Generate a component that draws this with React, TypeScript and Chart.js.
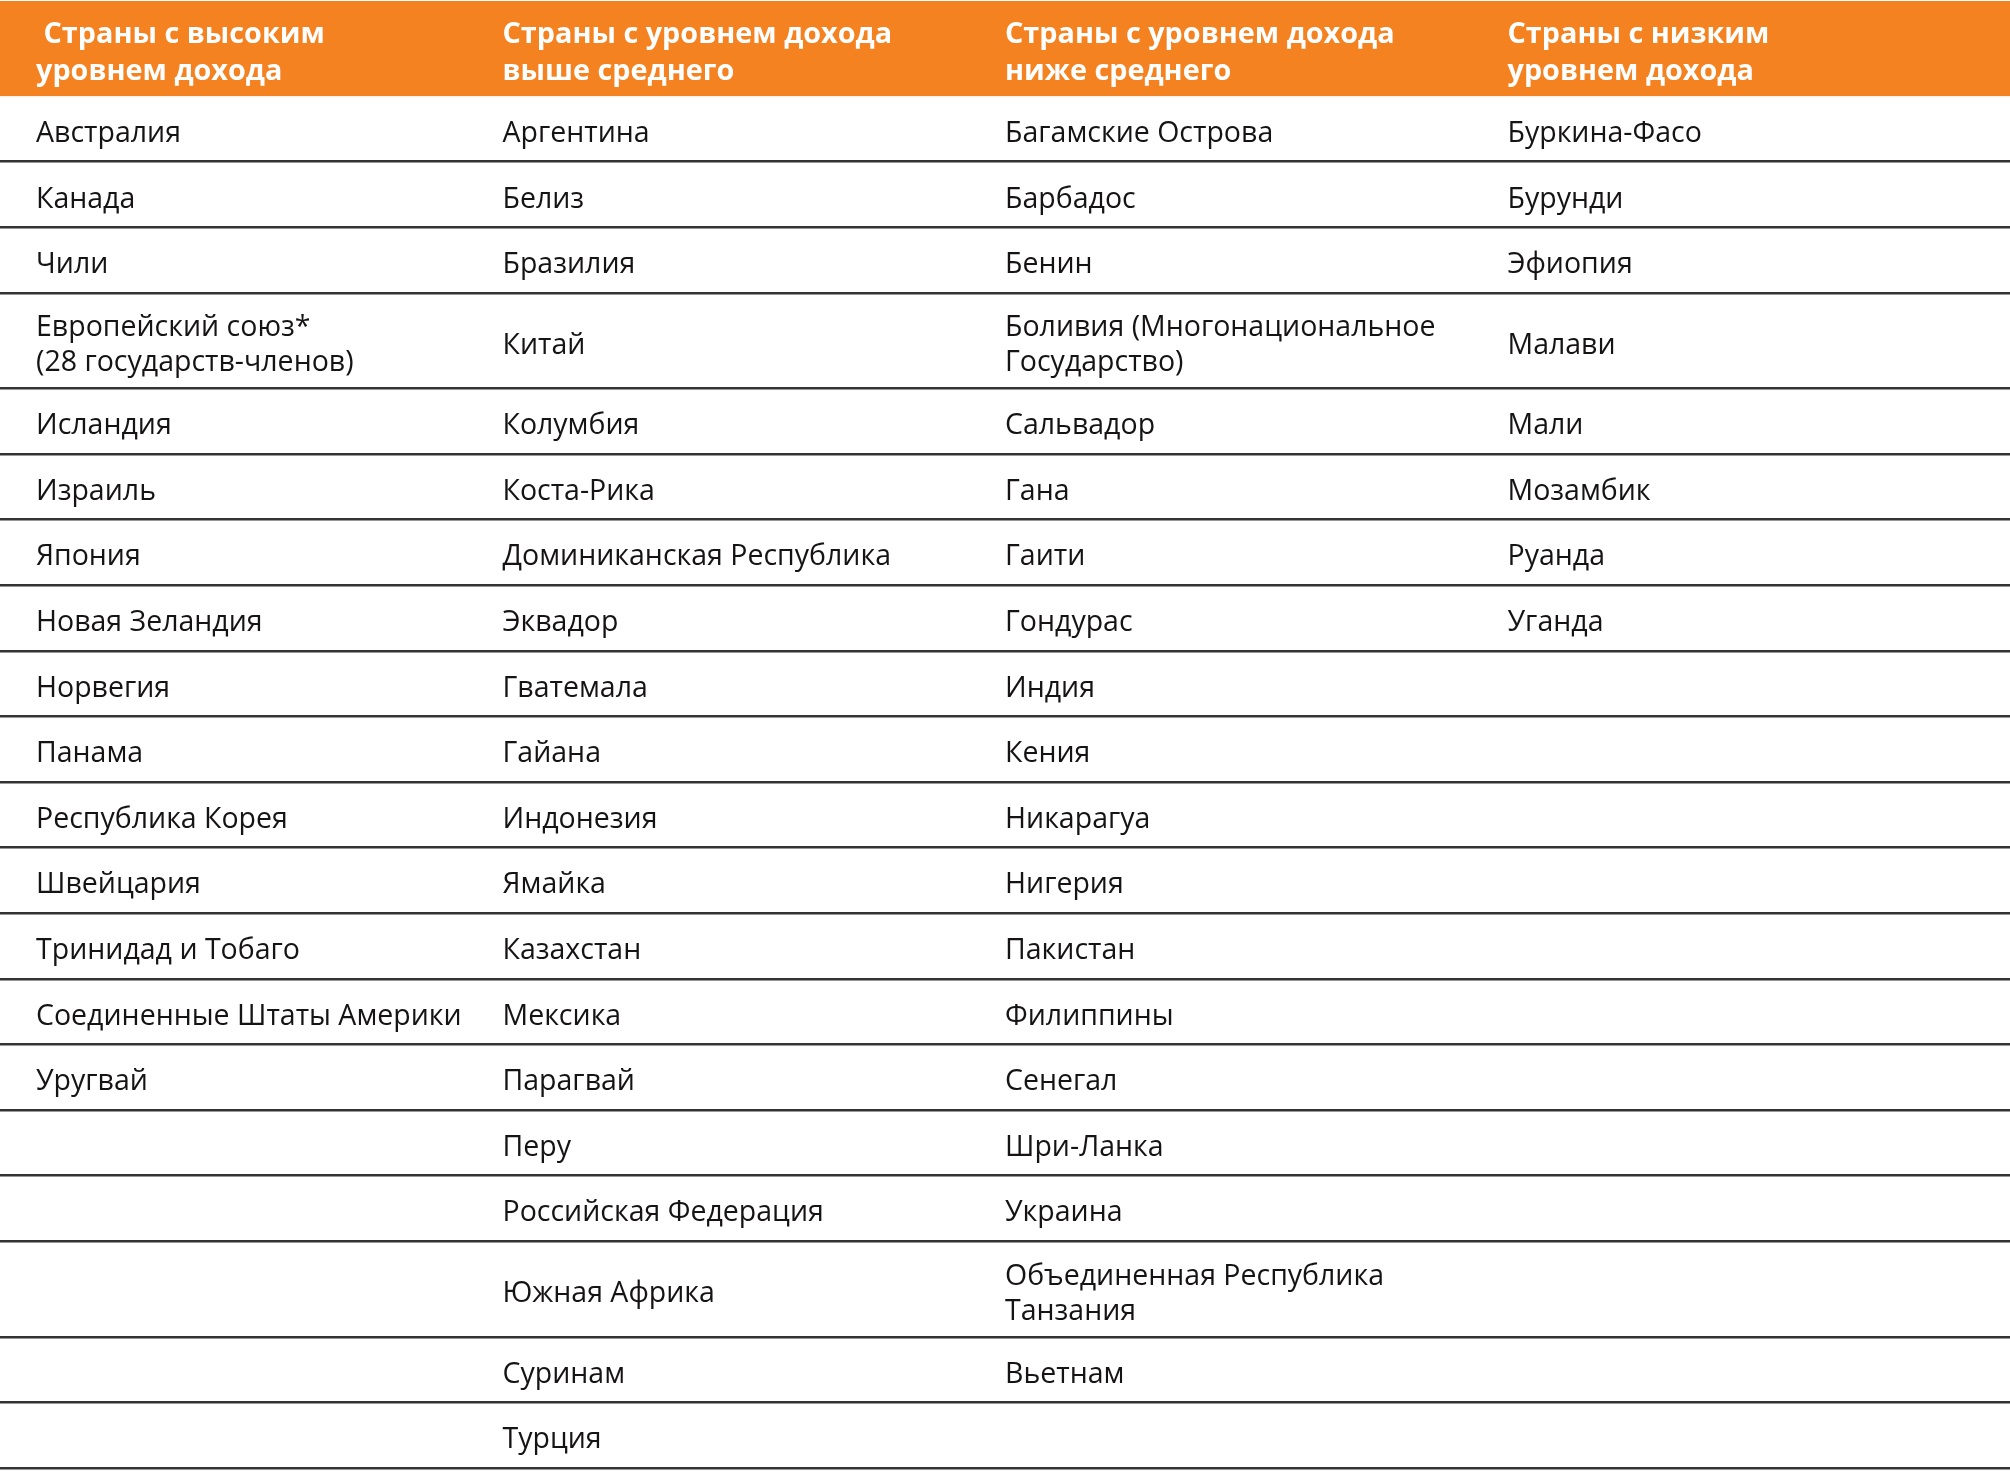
import React, { useEffect, useRef } from "react";
import { Chart, registerables } from "chart.js";

Chart.register(...registerables);

// ---- data ----
const headerTitles: string[] = [
  " Страны с высоким\nуровнем дохода",
  "Страны с уровнем дохода\nвыше среднего",
  "Страны с уровнем дохода\nниже среднего",
  "Страны с низким\nуровнем дохода",
];

const highIncome: string[] = [
  "Австралия",
  "Канада",
  "Чили",
  "Европейский союз*\n(28 государств-членов)",
  "Исландия",
  "Израиль",
  "Япония",
  "Новая Зеландия",
  "Норвегия",
  "Панама",
  "Республика Корея",
  "Швейцария",
  "Тринидад и Тобаго",
  "Соединенные Штаты Америки",
  "Уругвай",
];

const upperMiddleIncome: string[] = [
  "Аргентина",
  "Белиз",
  "Бразилия",
  "Китай",
  "Колумбия",
  "Коста-Рика",
  "Доминиканская Республика",
  "Эквадор",
  "Гватемала",
  "Гайана",
  "Индонезия",
  "Ямайка",
  "Казахстан",
  "Мексика",
  "Парагвай",
  "Перу",
  "Российская Федерация",
  "Южная Африка",
  "Суринам",
  "Турция",
];

const lowerMiddleIncome: string[] = [
  "Багамские Острова",
  "Барбадос",
  "Бенин",
  "Боливия (Многонациональное\nГосударство)",
  "Сальвадор",
  "Гана",
  "Гаити",
  "Гондурас",
  "Индия",
  "Кения",
  "Никарагуа",
  "Нигерия",
  "Пакистан",
  "Филиппины",
  "Сенегал",
  "Шри-Ланка",
  "Украина",
  "Объединенная Республика\nТанзания",
  "Вьетнам",
];

const lowIncome: string[] = [
  "Буркина-Фасо",
  "Бурунди",
  "Эфиопия",
  "Малави",
  "Мали",
  "Мозамбик",
  "Руанда",
  "Уганда",
];

const columns: string[][] = [highIncome, upperMiddleIncome, lowerMiddleIncome, lowIncome];

// ---- style / layout ----
const ORANGE = "#F58220";
const TEXT = "#161314";
const LINE = "#333333";
const BODY_FONT = "28.5px 'Open Sans'";
const HEAD_FONT = "bold 28.8px 'Open Sans'";
const HEADER_UNITS = 1.45;
const TWO_LINE_UNITS = 1.456;
const FIRST_COL_INDENT = 36;
const LINE_GAP = 35;
const HEAD_LINE_GAP = 37;
const BASE_OFFSET = 13;

const rowCount = Math.max(...columns.map((c) => c.length));
const rowLines: number[] = Array.from({ length: rowCount }, (_, r) =>
  Math.max(...columns.map((c) => (c[r] ? c[r].split("\n").length : 1)))
);
const rowHeights: number[] = rowLines.map((n) => (n > 1 ? TWO_LINE_UNITS : 1));
const rowTops: number[] = [];
{
  let acc = HEADER_UNITS;
  for (const h of rowHeights) {
    rowTops.push(acc);
    acc += h;
  }
}
const rowBottoms: number[] = rowTops.map((t, i) => t + rowHeights[i]);
const totalUnits = rowBottoms[rowBottoms.length - 1];

const tablePlugin = {
  id: "tablePlugin",
  beforeDraw(chart: any) {
    const { ctx, chartArea, scales } = chart;
    const y = scales.y;
    const top = y.getPixelForValue(0);
    const bottom = y.getPixelForValue(HEADER_UNITS);
    ctx.save();
    ctx.fillStyle = ORANGE;
    ctx.fillRect(chartArea.left, top, chartArea.right - chartArea.left, bottom - top);
    ctx.restore();
  },
  afterDraw(chart: any) {
    const { ctx, scales } = chart;
    const x = scales.x;
    const y = scales.y;
    ctx.save();
    ctx.textAlign = "left";
    ctx.textBaseline = "alphabetic";
    // header
    ctx.font = HEAD_FONT;
    ctx.fillStyle = "#ffffff";
    headerTitles.forEach((t, c) => {
      const lines = t.split("\n");
      const cx = x.getPixelForValue(c) + (c === 0 ? FIRST_COL_INDENT : 0);
      const cy = y.getPixelForValue(HEADER_UNITS / 2);
      lines.forEach((ln, i) => {
        const by = cy + BASE_OFFSET + (i - (lines.length - 1) / 2) * HEAD_LINE_GAP;
        ctx.fillText(ln, cx, by);
      });
    });
    // body
    ctx.font = BODY_FONT;
    ctx.fillStyle = TEXT;
    columns.forEach((col, c) => {
      col.forEach((cell, r) => {
        const lines = cell.split("\n");
        const cx = x.getPixelForValue(c) + (c === 0 ? FIRST_COL_INDENT : 0);
        const cy = y.getPixelForValue(rowTops[r] + rowHeights[r] / 2);
        lines.forEach((ln, i) => {
          const by = cy + BASE_OFFSET + (i - (lines.length - 1) / 2) * LINE_GAP;
          ctx.fillText(ln, cx, by);
        });
      });
    });
    ctx.restore();
  },
};

export default function App() {
  const ref = useRef<HTMLCanvasElement | null>(null);
  useEffect(() => {
    if (!ref.current) return;
    const chart = new Chart(ref.current, {
      type: "scatter",
      data: { datasets: [{ data: [] }] },
      options: {
        animation: false,
        responsive: false,
        maintainAspectRatio: false,
        layout: { padding: { top: 1, bottom: 4, left: 0, right: 0 } },
        plugins: { legend: { display: false }, tooltip: { enabled: false } },
        events: [],
        scales: {
          x: { type: "linear", min: 0, max: 4, display: false },
          y: {
            type: "linear",
            min: 0,
            max: totalUnits,
            reverse: true,
            display: true,
            afterBuildTicks: (scale: any) => {
              scale.ticks = rowBottoms.map((v) => ({ value: v }));
            },
            ticks: { display: false },
            border: { display: false },
            grid: { color: LINE, lineWidth: 2.5, drawTicks: false },
          },
        },
      },
      plugins: [tablePlugin],
    } as any);
    return () => chart.destroy();
  }, []);
  return (
    <div style={{ position: "fixed", left: 0, top: 0, width: 2010, height: 1472, background: "#fff" }}>
      <canvas ref={ref} width={2010} height={1472} style={{ display: "block" }} />
    </div>
  );
}
